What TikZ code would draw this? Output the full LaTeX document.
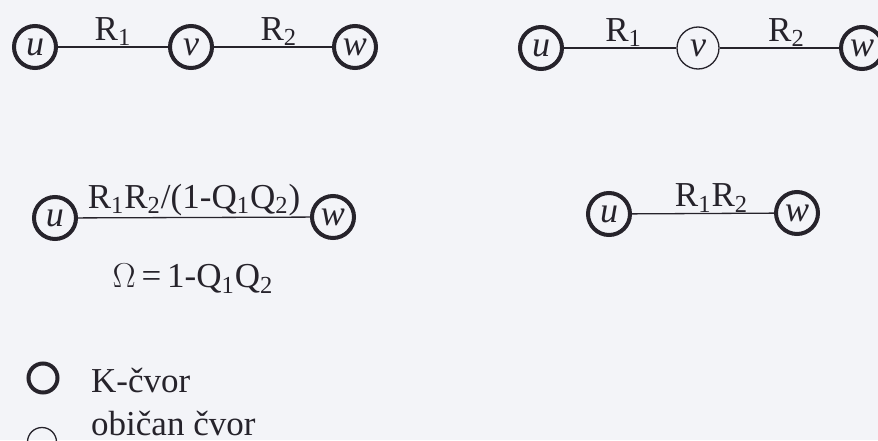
\documentclass[tikz,border=0pt]{standalone}
\usepackage{fontspec}
\setmainfont{Liberation Serif}
\definecolor{PageBg}{HTML}{F3F4F8}
\definecolor{InkDark}{HTML}{26232B}

\begin{document}
\begin{tikzpicture}[x=0.5pt,y=0.5pt,
  kcvor/.style={circle,draw=InkDark,line width=2pt,minimum size=21pt,inner sep=0pt,
    font=\fontsize{18}{21}\selectfont\itshape,text=InkDark},
  obcvor/.style={kcvor,line width=0.65pt},
  veza/.style={draw=InkDark,line width=0.65pt},
  oznaka/.style={font=\fontsize{17.5}{21}\selectfont,text=InkDark,inner sep=0.4pt}]
\fill[PageBg] (0,0) rectangle (878,440);
\useasboundingbox (0,0) rectangle (878,440);
% gore lijevo: u - v - w, svi K-cvorovi
\node[kcvor] (uA) at (35,393) {u};
\node[kcvor] (vA) at (191,393) {v};
\node[kcvor] (wA) at (355,393) {w};
\draw[veza] (uA) -- node[oznaka,above] {R\textsubscript{1}} (vA);
\draw[veza] (vA) -- node[oznaka,above,pos=0.55] {R\textsubscript{2}} (wA);
% gore desno: v je obican cvor
\node[kcvor] (uB) at (541,392) {u};
\node[obcvor] (vB) at (698,392) {v};
\node[kcvor] (wB) at (862,392) {w};
\draw[veza] (uB) -- node[oznaka,above,pos=0.53] {R\textsubscript{1}} (vB);
\draw[veza] (vB) -- node[oznaka,above,pos=0.56] {R\textsubscript{2}} (wB);
% sredina lijevo: agregirana veza
\node[kcvor] (uC) at (55,222) {u};
\node[kcvor] (wC) at (333,223) {w};
\draw[veza] (uC) -- node[oznaka,above] {R\textsubscript{1}R\textsubscript{2}/(1-Q\textsubscript{1}Q\textsubscript{2})} (wC);
\node[oznaka] (omega) at (193,161) {$\Omega$\,=\,1-Q\textsubscript{1}Q\textsubscript{2}};
% sredina desno
\node[kcvor] (uD) at (609,226) {u};
\node[kcvor] (wD) at (797,227) {w};
\draw[veza] (uD) -- node[oznaka,above,pos=0.56] {R\textsubscript{1}R\textsubscript{2}} (wD);
% legenda
\node[kcvor,minimum size=14.5pt] (legK) at (43,62) {};
\node[oznaka,anchor=base west] (legKtxt) at (90,48) {K-čvor};
\node[obcvor,minimum size=14.5pt] (legO) at (42,-2) {};
\node[oznaka,anchor=base west] (legOtxt) at (90,5) {običan čvor};
\end{tikzpicture}
\end{document}
